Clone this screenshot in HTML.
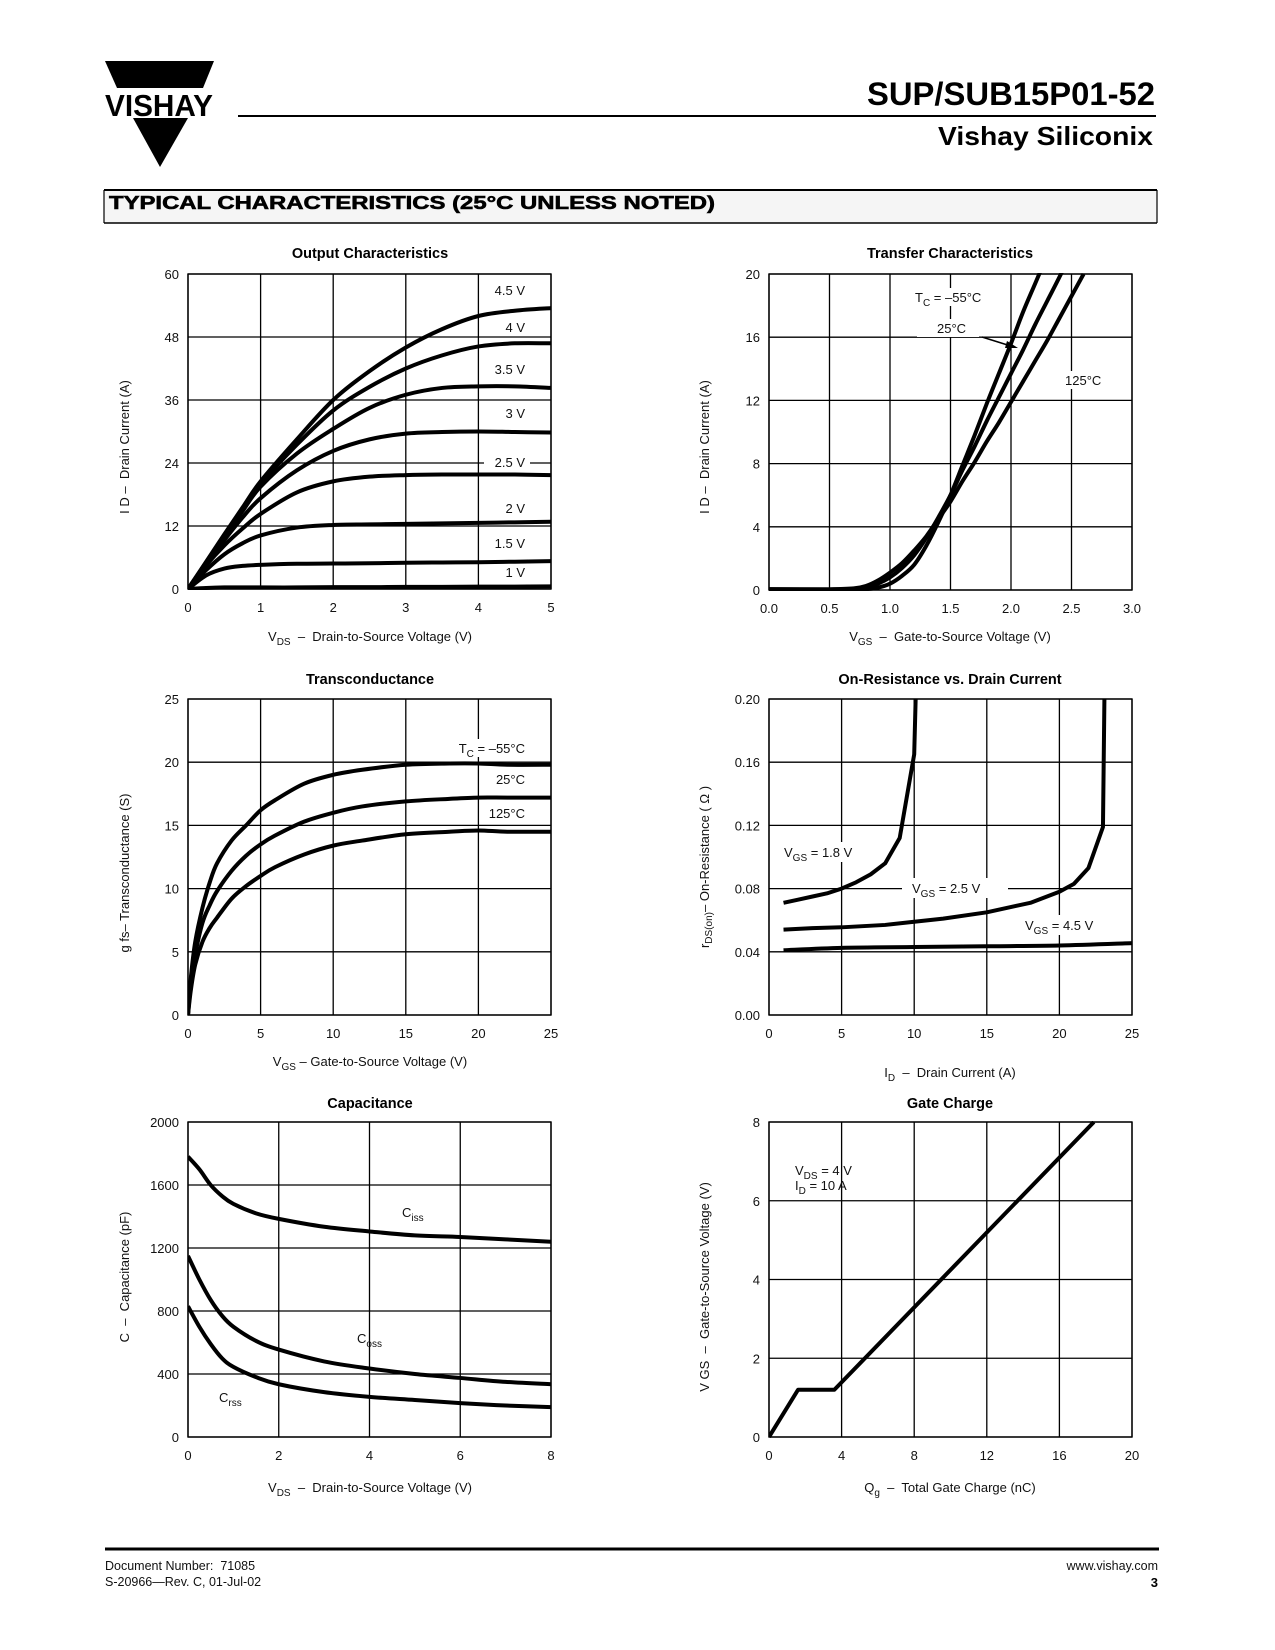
<!DOCTYPE html>
<html><head><meta charset="utf-8"><title>SUP/SUB15P01-52 Typical Characteristics</title>
<style>
html,body{margin:0;padding:0;background:#fff;}
svg{display:block;font-family:"Liberation Sans",Arial,sans-serif;}
svg text{white-space:pre;}
.tk{font-size:13px;fill:#111;}
.tt{font-size:14.5px;font-weight:bold;fill:#000;}
.at{font-size:13px;fill:#111;}
.lb{font-size:13px;fill:#111;}
</style></head>
<body>
<svg id="page" width="1275" height="1650" viewBox="0 0 1275 1650" xmlns="http://www.w3.org/2000/svg">
<rect x="0" y="0" width="1275" height="1650" fill="#fff"/>
<!-- Header -->
<g>
  <polygon points="105,61 214,61 203,88 117,88" fill="#000"/>
  <text x="105" y="116" font-size="31" font-weight="bold" textLength="108" lengthAdjust="spacingAndGlyphs" fill="#000">VISHAY</text>
  <polygon points="133,118 188,118 160,167" fill="#000"/>
</g>
<line x1="238" y1="116" x2="1156" y2="116" stroke="#000" stroke-width="2"/>
<text x="1155" y="105" text-anchor="end" font-size="32" font-weight="bold" textLength="288" lengthAdjust="spacingAndGlyphs" fill="#000">SUP/SUB15P01-52</text>
<text x="1153" y="145" text-anchor="end" font-size="26" font-weight="bold" textLength="215" lengthAdjust="spacingAndGlyphs" fill="#000">Vishay Siliconix</text>
<g>
  <rect x="104" y="190" width="1053" height="33" fill="#f5f5f5" stroke="none"/>
  <line x1="104" y1="190" x2="1157" y2="190" stroke="#000" stroke-width="2"/>
  <line x1="104" y1="223" x2="1157" y2="223" stroke="#000" stroke-width="1.5"/>
  <line x1="104" y1="190" x2="104" y2="223" stroke="#000" stroke-width="1.2"/>
  <line x1="1157" y1="190" x2="1157" y2="223" stroke="#000" stroke-width="1.2"/>
  <text x="109" y="209" font-size="18.5" font-weight="bold" textLength="606" lengthAdjust="spacingAndGlyphs" fill="#000" stroke="#000" stroke-width="0.6">TYPICAL CHARACTERISTICS (25°C UNLESS NOTED)</text>
</g>

<g id="plots"></g>

<!-- Chart titles -->
<text class="tt" x="370" y="258" text-anchor="middle">Output Characteristics</text>
<text class="tt" x="950" y="258" text-anchor="middle">Transfer Characteristics</text>
<text class="tt" x="370" y="684" text-anchor="middle">Transconductance</text>
<text class="tt" x="950" y="684" text-anchor="middle">On-Resistance vs. Drain Current</text>
<text class="tt" x="370" y="1108" text-anchor="middle">Capacitance</text>
<text class="tt" x="950" y="1108" text-anchor="middle">Gate Charge</text>

<!-- Axis titles -->
<text class="at" x="370" y="641" text-anchor="middle">V<tspan font-size="10" dy="4">DS</tspan><tspan dy="-4">  –  Drain-to-Source Voltage (V)</tspan></text>
<text class="at" transform="translate(129,447) rotate(-90)" text-anchor="middle">I D –  Drain Current (A)</text>
<text class="at" x="950" y="641" text-anchor="middle">V<tspan font-size="10" dy="4">GS</tspan><tspan dy="-4">  –  Gate-to-Source Voltage (V)</tspan></text>
<text class="at" transform="translate(709,447) rotate(-90)" text-anchor="middle">I D –  Drain Current (A)</text>
<text class="at" x="370" y="1066" text-anchor="middle">V<tspan font-size="10" dy="4">GS</tspan><tspan dy="-4"> – Gate-to-Source Voltage (V)</tspan></text>
<text class="at" transform="translate(129,873) rotate(-90)" text-anchor="middle">g fs– Transconductance (S)</text>
<text class="at" x="950" y="1077" text-anchor="middle">I<tspan font-size="10" dy="4">D</tspan><tspan dy="-4">  –  Drain Current (A)</tspan></text>
<text class="at" transform="translate(709,867) rotate(-90)" text-anchor="middle">r<tspan font-size="10" dy="3">DS(on)</tspan><tspan dy="-3">– On-Resistance ( Ω )</tspan></text>
<text class="at" x="370" y="1492" text-anchor="middle">V<tspan font-size="10" dy="4">DS</tspan><tspan dy="-4">  –  Drain-to-Source Voltage (V)</tspan></text>
<text class="at" transform="translate(129,1277) rotate(-90)" text-anchor="middle">C  –  Capacitance (pF)</text>
<text class="at" x="950" y="1492" text-anchor="middle">Q<tspan font-size="10" dy="4">g</tspan><tspan dy="-4">  –  Total Gate Charge (nC)</tspan></text>
<text class="at" transform="translate(709,1287) rotate(-90)" text-anchor="middle">V GS  –  Gate-to-Source Voltage (V)</text>

<!-- Curve labels -->
<g class="lb" text-anchor="end">
  <rect x="488" y="282" width="40" height="17" fill="#fff"/><text x="525" y="295">4.5 V</text>
  <rect x="500" y="319" width="28" height="17" fill="#fff"/><text x="525" y="332">4 V</text>
  <rect x="488" y="361" width="40" height="17" fill="#fff"/><text x="525" y="374">3.5 V</text>
  <rect x="500" y="405" width="28" height="17" fill="#fff"/><text x="525" y="418">3 V</text>
  <rect x="484" y="454" width="46" height="17" fill="#fff"/><text x="525" y="467">2.5 V</text>
  <rect x="500" y="500" width="28" height="17" fill="#fff"/><text x="525" y="513">2 V</text>
  <rect x="488" y="535" width="40" height="17" fill="#fff"/><text x="525" y="548">1.5 V</text>
  <rect x="500" y="565" width="28" height="15" fill="#fff"/><text x="525" y="577">1 V</text>
</g>
<g class="lb">
  <rect x="912" y="288" width="82" height="18" fill="#fff"/>
  <text x="915" y="302">T<tspan font-size="10" dy="4">C</tspan><tspan dy="-4"> = –55°C</tspan></text>
  <rect x="917" y="319" width="62" height="18" fill="#fff"/>
  <text x="937" y="333">25°C</text>
  <line x1="982" y1="337" x2="1014" y2="347" stroke="#000" stroke-width="1.5"/>
  <polygon points="1018,348 1007,341 1005,348" fill="#000"/>
  <rect x="1062" y="371" width="46" height="18" fill="#fff"/>
  <text x="1065" y="385">125°C</text>
</g>
<g class="lb" text-anchor="end">
  <rect x="446" y="739" width="82" height="18" fill="#fff"/>
  <text x="525" y="753">T<tspan font-size="10" dy="4">C</tspan><tspan dy="-4"> = –55°C</tspan></text>
  <rect x="486" y="770" width="42" height="18" fill="#fff"/>
  <text x="525" y="784">25°C</text>
  <rect x="480" y="804" width="48" height="18" fill="#fff"/>
  <text x="525" y="818">125°C</text>
</g>
<g class="lb">
  <rect x="782" y="842" width="80" height="20" fill="#fff"/>
  <text x="784" y="857">V<tspan font-size="10" dy="4">GS</tspan><tspan dy="-4"> = 1.8 V</tspan></text>
  <rect x="902" y="878" width="106" height="20" fill="#fff"/>
  <text x="912" y="893">V<tspan font-size="10" dy="4">GS</tspan><tspan dy="-4"> = 2.5 V</tspan></text>
  <rect x="1022" y="915" width="82" height="20" fill="#fff"/>
  <text x="1025" y="930">V<tspan font-size="10" dy="4">GS</tspan><tspan dy="-4"> = 4.5 V</tspan></text>
</g>
<g class="lb">
  <text x="402" y="1217">C<tspan font-size="10" dy="4">iss</tspan></text>
  <text x="357" y="1343">C<tspan font-size="10" dy="4">oss</tspan></text>
  <text x="219" y="1402">C<tspan font-size="10" dy="4">rss</tspan></text>
</g>
<g class="lb">
  <text x="795" y="1175">V<tspan font-size="10" dy="4">DS</tspan><tspan dy="-4"> = 4 V</tspan></text>
  <text x="795" y="1190">I<tspan font-size="10" dy="4">D</tspan><tspan dy="-4"> = 10 A</tspan></text>
</g>

<!-- Footer -->
<line x1="105" y1="1549" x2="1159" y2="1549" stroke="#000" stroke-width="3"/>
<text x="105" y="1570" font-size="12.5" fill="#111">Document Number:  71085</text>
<text x="105" y="1586" font-size="12.5" fill="#111">S-20966—Rev. C, 01-Jul-02</text>
<text x="1158" y="1570" font-size="12.5" text-anchor="end" fill="#111">www.vishay.com</text>
<text x="1158" y="1587" font-size="13" font-weight="bold" text-anchor="end" fill="#000">3</text>
</svg>

<script>
// ---------- Chart data ----------
// Output characteristics
const outTicksX = [0,1,2,3,4,5];
const outTicksY = [0,12,24,36,48,60];
const outVds = [0,0.25,0.5,0.75,1,1.5,2,2.5,3,3.5,4,4.5,5];
const outId45 = [0,5.2,10.4,15.5,20.5,28.5,36,41.5,46,49.5,52,53,53.5];
const outId40 = [0,5.1,10.2,15.2,20,27.5,34,38.5,42,44.5,46.2,46.8,46.8];
const outId35 = [0,5,10,14.8,19.5,25.8,30.5,34.5,37,38.3,38.6,38.6,38.3];
const outId30 = [0,4.8,9.3,13.6,17.3,22.6,26.3,28.5,29.6,29.9,30,29.9,29.8];
const outId25 = [0,4.5,8.3,11.5,14.3,18.4,20.5,21.4,21.7,21.8,21.8,21.8,21.7];
const outId20 = [0,3.6,6.6,8.7,10.2,11.7,12.2,12.3,12.4,12.5,12.6,12.7,12.8];
const outId15 = [0,2.6,3.9,4.4,4.6,4.8,4.85,4.9,5,5.05,5.1,5.2,5.3];
const outId10 = [0,0.2,0.3,0.3,0.3,0.3,0.35,0.35,0.4,0.4,0.45,0.45,0.5];
// Transfer characteristics
const trTicksX = [0,0.5,1,1.5,2,2.5,3];
const trTickLabelsX = ['0.0','0.5','1.0','1.5','2.0','2.5','3.0'];
const trTicksY = [0,4,8,12,16,20];
const trVgs = [0,0.5,0.7,0.8,0.9,1.0,1.1,1.2,1.3,1.4,1.5,1.6,1.7,1.8,1.9,2.0,2.1,2.2,2.3,2.4,2.5,2.6];
const trIdM55 = [0.05,0.02,0.02,0.05,0.15,0.4,0.9,1.6,2.8,4.3,6.0,7.9,9.8,11.8,13.7,15.6,17.6,19.4,21.2,23,24.8,26.6];
const trId25 = [0.05,0.03,0.05,0.15,0.4,0.8,1.4,2.2,3.3,4.6,6.0,7.6,9.1,10.7,12.2,13.7,15.2,16.8,18.3,19.8,21.4,23];
const trId125 = [0.05,0.05,0.1,0.25,0.6,1.1,1.7,2.5,3.4,4.5,5.6,6.9,8.1,9.4,10.6,11.9,13.2,14.5,15.8,17.2,18.6,20];
// Transconductance
const gfTicksX = [0,5,10,15,20,25];
const gfTicksY = [0,5,10,15,20,25];
const gfVgs = [0,0.2,0.5,1,1.5,2,3,4,5,6,8,10,12,15,18,20,22,25];
const gfM55 = [0,3,5.8,8.5,10.5,12,13.8,15,16.2,17,18.3,19,19.4,19.8,19.9,19.9,19.8,19.8];
const gf25 = [0,2.5,4.8,7.3,8.7,9.8,11.4,12.6,13.5,14.2,15.3,16,16.5,16.9,17.1,17.2,17.2,17.2];
const gf125 = [0,2,4,5.8,6.9,7.7,9.2,10.2,11,11.7,12.7,13.4,13.8,14.3,14.5,14.6,14.5,14.5];
// On-resistance
const rdTicksX = [0,5,10,15,20,25];
const rdTicksY = [0,0.04,0.08,0.12,0.16,0.2];
const rdTickLabelsY = ['0.00','0.04','0.08','0.12','0.16','0.20'];
const rdId18 = [1,2,3,4,5,6,7,8,9,10,10.1];
const rdR18 = [0.071,0.073,0.075,0.077,0.080,0.084,0.089,0.096,0.112,0.165,0.2];
const rdId25 = [1,3,5,8,10,12,15,17,18,20,21,22,23,23.1];
const rdR25 = [0.054,0.055,0.0555,0.057,0.059,0.061,0.065,0.069,0.071,0.078,0.083,0.093,0.119,0.2];
const rdId45 = [1,5,10,15,20,25];
const rdR45 = [0.041,0.0425,0.043,0.0435,0.044,0.0455];
// Capacitance
const capTicksX = [0,2,4,6,8];
const capTicksY = [0,400,800,1200,1600,2000];
const capVds = [0,0.25,0.5,0.75,1,1.5,2,3,4,5,6,7,8];
const capCiss = [1780,1700,1600,1530,1480,1420,1385,1335,1305,1280,1270,1255,1240];
const capCoss = [1150,1000,870,770,700,610,555,480,435,400,375,350,335];
const capCrss = [830,700,590,500,445,380,335,285,255,235,215,200,190];
// Gate charge
const gcTicksX = [0,4,8,12,16,20];
const gcTicksY = [0,2,4,6,8];
const gcQg = [0,1.6,3.6,17.9];
const gcVgs = [0,1.2,1.2,8];

// ---------- Drawing ----------
const NS = 'http://www.w3.org/2000/svg';
const plots = document.getElementById('plots');
let clipCount = 0;

function mk(tag, attrs, parent) {
  const el = document.createElementNS(NS, tag);
  for (const k in attrs) el.setAttribute(k, attrs[k]);
  parent.appendChild(el);
  return el;
}

function makeChart(name, x0, x1, y0, y1, xmin, xmax, ymin, ymax, ticksX, ticksY, labelsX, labelsY) {
  const g = mk('g', {}, plots);
  
  
  const sx = v => x0 + (v - xmin) / (xmax - xmin) * (x1 - x0);
  const sy = v => y1 - (v - ymin) / (ymax - ymin) * (y1 - y0);
  ticksX.forEach((t, i) => {
    const ln = mk('line', {x1: sx(t), y1: y0, x2: sx(t), y2: y1, stroke: '#000', 'stroke-width': 1.3}, g);
    
    
    const tx = mk('text', {x: sx(t), y: y1 + 23, 'text-anchor': 'middle', class: 'tk'}, g);
    tx.textContent = labelsX ? labelsX[i] : String(t);
    
    
  });
  ticksY.forEach((t, i) => {
    const ln = mk('line', {x1: x0, y1: sy(t), x2: x1, y2: sy(t), stroke: '#000', 'stroke-width': 1.3}, g);
    
    
    const tx = mk('text', {x: x0 - 9, y: sy(t) + 5, 'text-anchor': 'end', class: 'tk'}, g);
    tx.textContent = labelsY ? labelsY[i] : String(t);
    
    
  });
  const fr = mk('rect', {x: x0, y: y0, width: x1 - x0, height: y1 - y0, fill: 'none', stroke: '#000', 'stroke-width': 1.4}, g);
  
  
  const id = 'clip' + (clipCount++);
  const cp = mk('clipPath', {id: id}, g);
  mk('rect', {x: x0, y: y0 - 1, width: x1 - x0, height: y1 - y0 + 2}, cp);
  const cg = mk('g', {'clip-path': 'url(#' + id + ')'}, g);
  return {g: cg, sx: sx, sy: sy};
}

function smoothPath(pts) {
  let d = 'M' + pts[0][0].toFixed(2) + ',' + pts[0][1].toFixed(2);
  for (let i = 0; i < pts.length - 1; i++) {
    const p0 = pts[i - 1] || pts[i], p1 = pts[i], p2 = pts[i + 1], p3 = pts[i + 2] || p2;
    const c1x = p1[0] + (p2[0] - p0[0]) / 6, c1y = p1[1] + (p2[1] - p0[1]) / 6;
    const c2x = p2[0] - (p3[0] - p1[0]) / 6, c2y = p2[1] - (p3[1] - p1[1]) / 6;
    d += 'C' + c1x.toFixed(2) + ',' + c1y.toFixed(2) + ' ' + c2x.toFixed(2) + ',' + c2y.toFixed(2) + ' ' + p2[0].toFixed(2) + ',' + p2[1].toFixed(2);
  }
  return d;
}
function linePath(pts) {
  return pts.map((p, i) => (i ? 'L' : 'M') + p[0].toFixed(2) + ',' + p[1].toFixed(2)).join('');
}

function drawSeries(ch, xs, ys, smooth, seriesName) {
  const pts = xs.map((x, i) => [ch.sx(x), ch.sy(ys[i])]);
  const p = mk('path', {d: smooth ? smoothPath(pts) : linePath(pts), fill: 'none', stroke: '#000', 'stroke-width': 4, 'stroke-linejoin': 'round', 'stroke-linecap': 'butt'}, ch.g);
  
  
}

const c1 = makeChart('output-characteristics-chart', 188, 551, 274, 589, 0, 5, 0, 60, outTicksX, outTicksY);
drawSeries(c1, outVds, outId45, true, 'curve-vgs-4-5v');
drawSeries(c1, outVds, outId40, true, 'curve-vgs-4v');
drawSeries(c1, outVds, outId35, true, 'curve-vgs-3-5v');
drawSeries(c1, outVds, outId30, true, 'curve-vgs-3v');
drawSeries(c1, outVds, outId25, true, 'curve-vgs-2-5v');
drawSeries(c1, outVds, outId20, true, 'curve-vgs-2v');
drawSeries(c1, outVds, outId15, true, 'curve-vgs-1-5v');
drawSeries(c1, outVds, outId10, true, 'curve-vgs-1v');

const c2 = makeChart('transfer-characteristics-chart', 769, 1132, 274, 590, 0, 3, 0, 20, trTicksX, trTicksY, trTickLabelsX);
drawSeries(c2, trVgs, trIdM55, true, 'curve-tc-minus-55c');
drawSeries(c2, trVgs, trId25, true, 'curve-tc-25c');
drawSeries(c2, trVgs, trId125, true, 'curve-tc-125c');

const c3 = makeChart('transconductance-chart', 188, 551, 699, 1015, 0, 25, 0, 25, gfTicksX, gfTicksY);
drawSeries(c3, gfVgs, gfM55, true, 'curve-gfs-minus-55c');
drawSeries(c3, gfVgs, gf25, true, 'curve-gfs-25c');
drawSeries(c3, gfVgs, gf125, true, 'curve-gfs-125c');

const c4 = makeChart('on-resistance-chart', 769, 1132, 699, 1015, 0, 25, 0, 0.2, rdTicksX, rdTicksY, null, rdTickLabelsY);
drawSeries(c4, rdId18, rdR18, false, 'curve-rds-vgs-1-8v');
drawSeries(c4, rdId25, rdR25, false, 'curve-rds-vgs-2-5v');
drawSeries(c4, rdId45, rdR45, true, 'curve-rds-vgs-4-5v');

const c5 = makeChart('capacitance-chart', 188, 551, 1122, 1437, 0, 8, 0, 2000, capTicksX, capTicksY);
drawSeries(c5, capVds, capCiss, true, 'curve-ciss');
drawSeries(c5, capVds, capCoss, true, 'curve-coss');
drawSeries(c5, capVds, capCrss, true, 'curve-crss');

const c6 = makeChart('gate-charge-chart', 769, 1132, 1122, 1437, 0, 20, 0, 8, gcTicksX, gcTicksY);
drawSeries(c6, gcQg, gcVgs, false, 'curve-gate-charge');
</script>
</body></html>
